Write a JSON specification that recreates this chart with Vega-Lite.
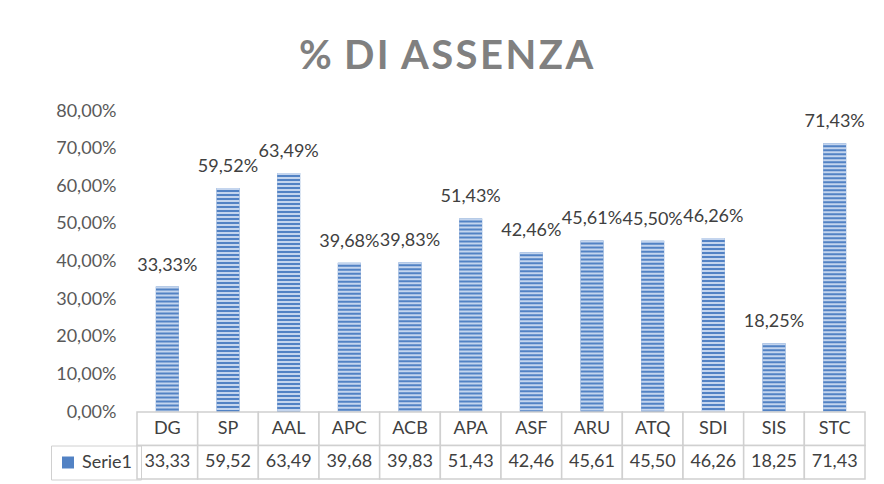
{
  "$schema": "https://vega.github.io/schema/vega-lite/v6.json",
  "background": "white",
  "padding": {"left": 50, "top": 37, "right": 20, "bottom": 6},
  "config": {"view": {"stroke": null}, "font": "Lato"},
  "title": {
    "text": "% \u200aD\u200aI \u200aA\u200aS\u200aS\u200aE\u200aN\u200aZ\u200aA",
    "fontSize": 40,
    "font": "Lato",
    "fontWeight": "bold",
    "color": "#808080",
    "anchor": "middle",
    "frame": "bounds",
    "offset": 25,
    "dx": -12
  },
  "datasets": {
    "d": [
      {"cat": "DG", "v": 33.33},
      {"cat": "SP", "v": 59.52},
      {"cat": "AAL", "v": 63.49},
      {"cat": "APC", "v": 39.68},
      {"cat": "ACB", "v": 39.83},
      {"cat": "APA", "v": 51.43},
      {"cat": "ASF", "v": 42.46},
      {"cat": "ARU", "v": 45.61},
      {"cat": "ATQ", "v": 45.50},
      {"cat": "SDI", "v": 46.26},
      {"cat": "SIS", "v": 18.25},
      {"cat": "STC", "v": 71.43}
    ]
  },
  "spacing": 0,
  "bounds": "flush",
  "vconcat": [
    {
      "width": 728,
      "height": 301,
      "data": {"name": "d"},
      "transform": [{"calculate": "replace(format(datum.v, '.2f'), '.', ',') + '%'", "as": "lbl"}],
      "encoding": {
        "x": {"field": "cat", "type": "nominal", "sort": null, "axis": null,
              "scale": {"paddingInner": 0.62, "paddingOuter": 0.31}},
        "y": {"field": "v", "type": "quantitative",
              "scale": {"domain": [0, 80], "nice": false},
              "axis": {"values": [0, 10, 20, 30, 40, 50, 60, 70, 80],
                       "tickCount": 9,
                       "labelExpr": "replace(format(datum.value, '.2f'), '.', ',') + '%'",
                       "labelOverlap": false, "labelBound": false,
                       "domain": false, "ticks": false, "grid": false,
                       "labelPadding": 21, "labelFontSize": 18, "labelColor": "#595959",
                       "labelFont": "Lato", "title": null}}
      },
      "layer": [
        {
          "mark": {"type": "bar"},
          "encoding": {
            "color": {"datum": "Serie1", "type": "nominal",
                      "scale": {"range": ["#5282C4"]},
                      "legend": {"title": null, "orient": "none", "legendX": -86, "legendY": 334.5,
                                 "symbolType": "square", "symbolSize": 144, "symbolStrokeWidth": 0,
                                 "labelFontSize": 18, "labelColor": "#404040", "labelFont": "Lato",
                                 "padding": 8, "labelOffset": 5, "strokeColor": "#D0D0D0"}}
          }
        },
        {
          "mark": {"type": "rule", "color": "#C4D5EE", "strokeWidth": 23, "strokeDash": [2, 2]},
          "encoding": {
            "y2": {"datum": 0}
          }
        },
        {
          "mark": {"type": "text", "baseline": "alphabetic", "dy": -16, "fontSize": 18, "color": "#404040", "font": "Lato"},
          "encoding": {
            "text": {"field": "lbl"}
          }
        }
      ]
    },
    {
      "width": 728,
      "height": 67,
      "data": {"name": "d"},
      "transform": [{"calculate": "replace(format(datum.v, '.2f'), '.', ',')", "as": "lbl2"}],
      "encoding": {
        "x": {"field": "cat", "type": "nominal", "sort": null, "axis": null,
              "scale": {"paddingInner": 0, "paddingOuter": 0}}
      },
      "layer": [
        {
          "mark": {"type": "rect", "fill": "white", "stroke": "#D0D0D0", "strokeWidth": 1.5},
          "encoding": {
            "y": {"datum": "r1", "type": "nominal", "axis": null,
                  "scale": {"domain": ["r1", "r2"], "paddingInner": 0, "paddingOuter": 0}}
          }
        },
        {
          "mark": {"type": "rect", "fill": "white", "stroke": "#D0D0D0", "strokeWidth": 1.5},
          "encoding": {
            "y": {"datum": "r2", "type": "nominal"}
          }
        },
        {
          "mark": {"type": "text", "fontSize": 18, "color": "#404040", "font": "Lato"},
          "encoding": {
            "y": {"datum": "r1", "type": "nominal"},
            "text": {"field": "cat"}
          }
        },
        {
          "mark": {"type": "text", "fontSize": 18, "color": "#404040", "font": "Lato"},
          "encoding": {
            "y": {"datum": "r2", "type": "nominal"},
            "text": {"field": "lbl2"}
          }
        }
      ]
    }
  ]
}
